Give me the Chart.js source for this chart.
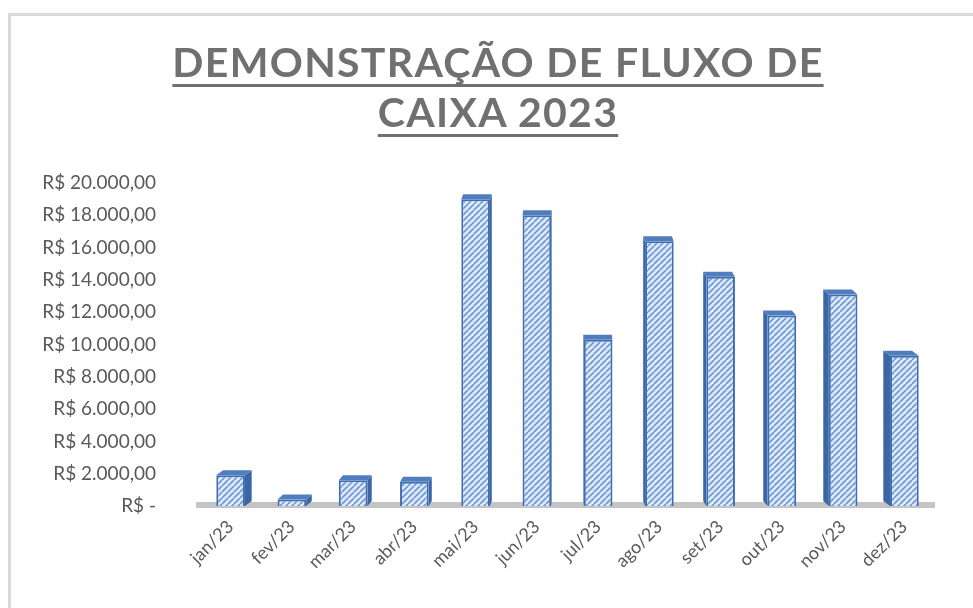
<!DOCTYPE html>
<html>
<head>
<meta charset="utf-8">
<script src="https://cdn.jsdelivr.net/npm/chart.js@4/dist/chart.umd.min.js"></script>
<style>
  html, body { margin: 0; padding: 0; background: #fff; }
  #wrap { position: relative; width: 973px; height: 608px; overflow: hidden; }
  #frame {
    position: absolute; left: 8px; top: 13px; width: 1000px; height: 700px;
    border-left: 3px solid #d9d9d9; border-top: 3px solid #d9d9d9;
  }
  #title {
    position: absolute; left: 0; top: 37px; width: 996px; text-align: center;
    font-family: Lato, sans-serif; font-weight: bold; font-size: 41px; line-height: 50px;
    color: #707070; letter-spacing: 1.3px;
    text-decoration: underline; text-decoration-thickness: 3px; text-underline-offset: 7px;
  }
  #chart { position: absolute; left: 0; top: 0; }
</style>
</head>
<body>
<div id="wrap">
  <div id="frame"></div>
  <canvas id="chart" width="973" height="608"></canvas>
  <div id="title">DEMONSTRAÇÃO DE FLUXO DE<br>CAIXA 2023</div>
</div>
<script>
const months = ['jan/23', 'fev/23', 'mar/23', 'abr/23', 'mai/23', 'jun/23',
                'jul/23', 'ago/23', 'set/23', 'out/23', 'nov/23', 'dez/23'];
const saldo = [1900, 400, 1600, 1500, 19000, 18000, 10300, 16400, 14200, 11800, 13100, 9300];
const yTickLabels = ['R$ -', 'R$ 2.000,00', 'R$ 4.000,00', 'R$ 6.000,00', 'R$ 8.000,00',
                     'R$ 10.000,00', 'R$ 12.000,00', 'R$ 14.000,00', 'R$ 16.000,00',
                     'R$ 18.000,00', 'R$ 20.000,00'];

// hatch fill for the bar fronts
function hatch() {
    const s = 6;
    const c = document.createElement('canvas');
    c.width = s; c.height = s;
    const g = c.getContext('2d');
    g.fillStyle = '#dde9f8';
    g.fillRect(0, 0, s, s);
    g.strokeStyle = '#6f98d2';
    g.lineWidth = 1.6;
    g.beginPath();
    for (const k of [-s, 0, s]) {
        g.moveTo(k, s);
        g.lineTo(k + s, 0);
    }
    g.stroke();
    return g.createPattern(c, 'repeat');
}

// floor band + top/side faces behind each bar
const fake3d = {
    id: 'fake3d',
    beforeDatasetsDraw(chart) {
        const ctx = chart.ctx;
        const area = chart.chartArea;
        const y0 = chart.scales.y.getPixelForValue(0);
        ctx.save();
        ctx.fillStyle = '#c4c4c4';
        ctx.fillRect(area.left - 4, y0 - 4, area.right - area.left + 4, 6);
        const mid = (area.left + area.right) / 2;
        chart.getDatasetMeta(0).data.forEach(bar => {
            const p = bar.getProps(['x', 'y', 'base', 'width'], true);
            const l = p.x - p.width / 2, r = p.x + p.width / 2;
            const dx = (mid - p.x) * 0.02;
            const dy = 5;
            ctx.fillStyle = '#3a66a5';
            ctx.beginPath();
            const e = dx >= 0 ? r : l;
            ctx.moveTo(e, p.y);
            ctx.lineTo(e + dx, p.y - dy);
            ctx.lineTo(e + dx, p.base - dy);
            ctx.lineTo(e, p.base);
            ctx.closePath();
            ctx.fill();
            ctx.fillStyle = '#507dbd';
            ctx.beginPath();
            ctx.moveTo(l, p.y);
            ctx.lineTo(r, p.y);
            ctx.lineTo(r + dx, p.y - dy);
            ctx.lineTo(l + dx, p.y - dy);
            ctx.closePath();
            ctx.fill();
        });
        ctx.restore();
    }
};

const ctx = document.getElementById('chart').getContext('2d');
const fluxoChart = new Chart(ctx, {
    type: 'bar',
    data: {
        labels: months,
        datasets: [{
            label: 'Saldo',
            data: saldo,
            backgroundColor: hatch(),
            borderColor: '#3e6db0',
            borderWidth: 2,
            categoryPercentage: 0.9,
            barPercentage: 0.52,
        }]
    },
    options: {
        responsive: false,
        animation: false,
        layout: {
            padding: { top: 183, left: 10, right: 38, bottom: 12 },
        },
        scales: {
            y: {
                min: 0,
                max: 20000,
                border: { display: false },
                grid: { display: false },
                afterFit: scale => { scale.width = 190; },
                ticks: {
                    stepSize: 2000,
                    padding: 36,
                    color: '#595959',
                    font: { family: 'Lato', size: 19 },
                    callback: (value, index) => yTickLabels[index],
                },
            },
            x: {
                border: { display: false },
                grid: { display: false },
                afterFit: scale => { scale.height = 90; },
                ticks: {
                    minRotation: 45,
                    maxRotation: 45,
                    padding: 2,
                    color: '#595959',
                    font: { family: 'Lato', size: 18 },
                },
            }
        },
        plugins: {
            legend: { display: false },
            tooltip: { enabled: false },
        },
    },
    plugins: [fake3d],
});
</script>
</body>
</html>
